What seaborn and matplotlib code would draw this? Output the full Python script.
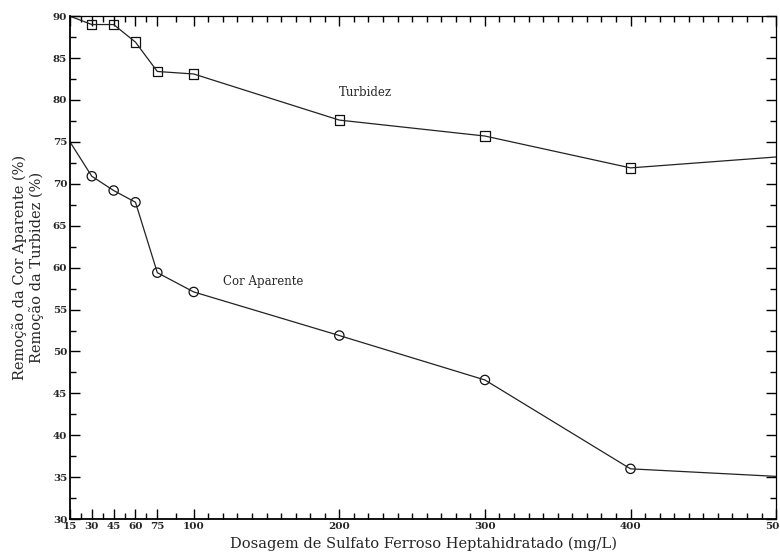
import numpy as np
import pandas as pd
import seaborn as sns
import matplotlib.pyplot as plt
from matplotlib.ticker import FixedLocator, MultipleLocator

# dosagem (mg/L)
dosagem = [15, 30, 45, 60, 75, 100, 200, 300, 400, 500]
turbidez = [90.0, 89.0, 89.0, 86.9, 83.4, 83.1, 77.6, 75.7, 71.9, 73.2]
cor_aparente = [75.0, 70.9, 69.2, 67.8, 59.4, 57.1, 51.9, 46.6, 36.0, 35.1]
xticks = [15, 30, 45, 60, 75, 100, 200, 300, 400, 500]

df = pd.DataFrame({'Dosagem': dosagem + dosagem,
                   'Remocao': turbidez + cor_aparente,
                   'Serie': ['Turbidez'] * len(dosagem) + ['Cor Aparente'] * len(dosagem)})

sns.set_style('ticks')
plt.rcParams['font.family'] = ['DejaVu Serif', 'DejaVu Sans']

fig = plt.figure(figsize=(7.8, 5.57), dpi=100)
ax = fig.add_axes([0.0897, 0.068, 0.9053, 0.903])

sns.lineplot(data=df, x='Dosagem', y='Remocao', hue='Serie', palette=['#222222', '#222222'],
             linewidth=0.9, legend=False, ax=ax)

# markers only on the inner points
inner = df[(df['Dosagem'] > 15) & (df['Dosagem'] < 500)]
sns.scatterplot(data=inner[inner['Serie'] == 'Turbidez'], x='Dosagem', y='Remocao',
                marker='s', s=45, facecolor='none', edgecolor='#111111', linewidth=0.9, ax=ax)
sns.scatterplot(data=inner[inner['Serie'] == 'Cor Aparente'], x='Dosagem', y='Remocao',
                marker='o', s=45, facecolor='none', edgecolor='#111111', linewidth=0.9, ax=ax)

ax.set_xlim(15, 500)
ax.set_ylim(30, 90)
ax.xaxis.set_major_locator(FixedLocator(xticks))
ax.xaxis.set_minor_locator(FixedLocator([22.5, 37.5, 52.5, 67.5, 87.5] + list(range(110, 500, 10))))
ax.yaxis.set_major_locator(MultipleLocator(5))
ax.yaxis.set_minor_locator(MultipleLocator(2.5))
ax.tick_params(which='both', direction='in', top=True, right=True, labelright=False, labeltop=False,
               width=1.0, color='black')
ax.tick_params(which='major', length=7, labelsize=7.5, pad=2)
ax.tick_params(which='minor', length=4)
for lab in ax.get_xticklabels() + ax.get_yticklabels():
    lab.set_fontweight('bold')
for side, s in ax.spines.items():
    s.set_linewidth(1.3 if side in ('left', 'bottom') else 0.9)
    s.set_color('black')

ax.set_xlabel('Dosagem de Sulfato Ferroso Heptahidratado (mg/L)', fontsize=10.5, labelpad=4)
ax.set_ylabel('Remoção da Cor Aparente (%)\nRemoção da Turbidez (%)', fontsize=10.5, labelpad=6)

ax.text(218, 80.9, 'Turbidez', fontsize=8.5, ha='center', va='center')
ax.text(148, 58.4, 'Cor Aparente', fontsize=8.5, ha='center', va='center')

fig.savefig('out.png', dpi=100)
